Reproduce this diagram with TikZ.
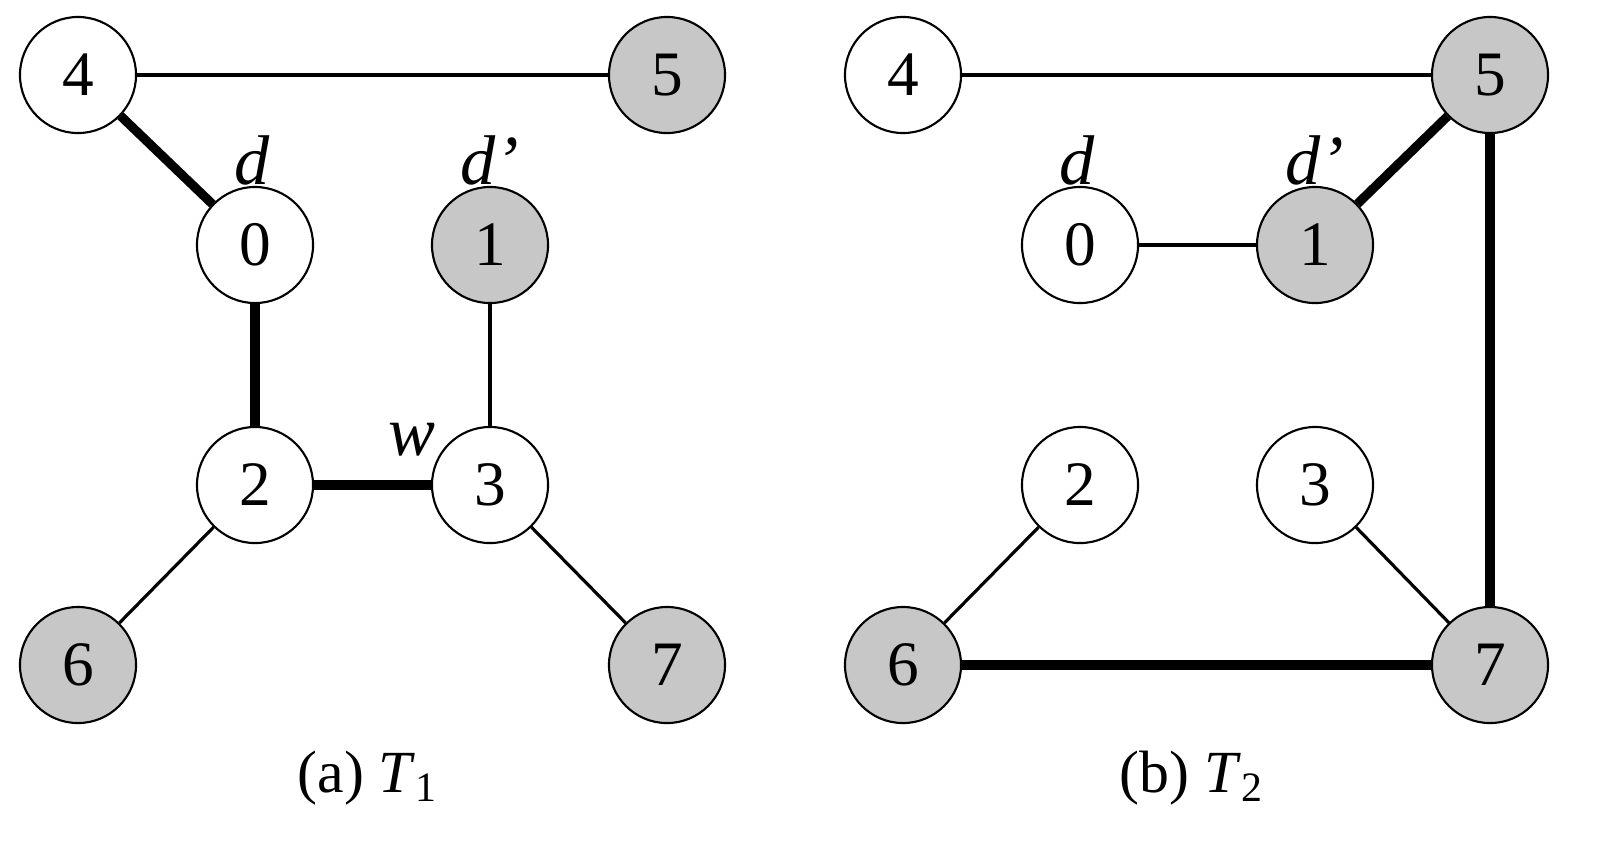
\documentclass[tikz,border=0pt]{standalone}
\usepackage{fontspec}
\setmainfont{Liberation Serif}
\begin{document}
\begin{tikzpicture}[x=0.01cm,y=-0.01cm,
 v/.style={circle,draw,line width=0.6pt,minimum size=1.16cm,inner sep=0pt,font=\fontsize{18}{20}\selectfont,fill=white},
 g/.style={v,fill=black!22},
 th/.style={line width=0.9pt},
 tk/.style={line width=2.6pt},
 lab/.style={font=\fontsize{20}{22}\selectfont\itshape},
 captxt/.style={font=\fontsize{17}{19}\selectfont}]
\useasboundingbox (0,0) rectangle (1601,844);
% (a)
\node[v] (a4) at (78,75) {4};
\node[g] (a5) at (667,75) {5};
\node[v] (a0) at (255,245) {0};
\node[g] (a1) at (490,245) {1};
\node[v] (a2) at (255,485) {2};
\node[v] (a3) at (490,485) {3};
\node[g] (a6) at (78,665) {6};
\node[g] (a7) at (667,665) {7};
\draw[th] (a4)--(a5); \draw[tk] (a4)--(a0); \draw[tk] (a0)--(a2);
\draw[tk] (a2)--(a3); \draw[th] (a1)--(a3); \draw[th] (a2)--(a6); \draw[th] (a3)--(a7);
\node[lab] (ld) at (252,160) {d};
\node[lab] (ldp) at (490,160) {d’};
\node[lab] (lw) at (412,440) {w};
\node[captxt] (ca) at (368,778) {(a) \textit{T}\textsubscript{1}};
% (b)
\node[v] (b4) at (903,75) {4};
\node[g] (b5) at (1490,75) {5};
\node[v] (b0) at (1080,245) {0};
\node[g] (b1) at (1315,245) {1};
\node[v] (b2) at (1080,485) {2};
\node[v] (b3) at (1315,485) {3};
\node[g] (b6) at (903,665) {6};
\node[g] (b7) at (1490,665) {7};
\draw[th] (b4)--(b5); \draw[th] (b0)--(b1); \draw[tk] (b1)--(b5);
\draw[tk] (b5)--(b7); \draw[tk] (b6)--(b7); \draw[th] (b2)--(b6); \draw[th] (b3)--(b7);
\node[lab] (ld2) at (1077,160) {d};
\node[lab] (ldp2) at (1315,160) {d’};
\node[captxt] (cb) at (1192,778) {(b) \textit{T}\textsubscript{2}};
\end{tikzpicture}
\end{document}
